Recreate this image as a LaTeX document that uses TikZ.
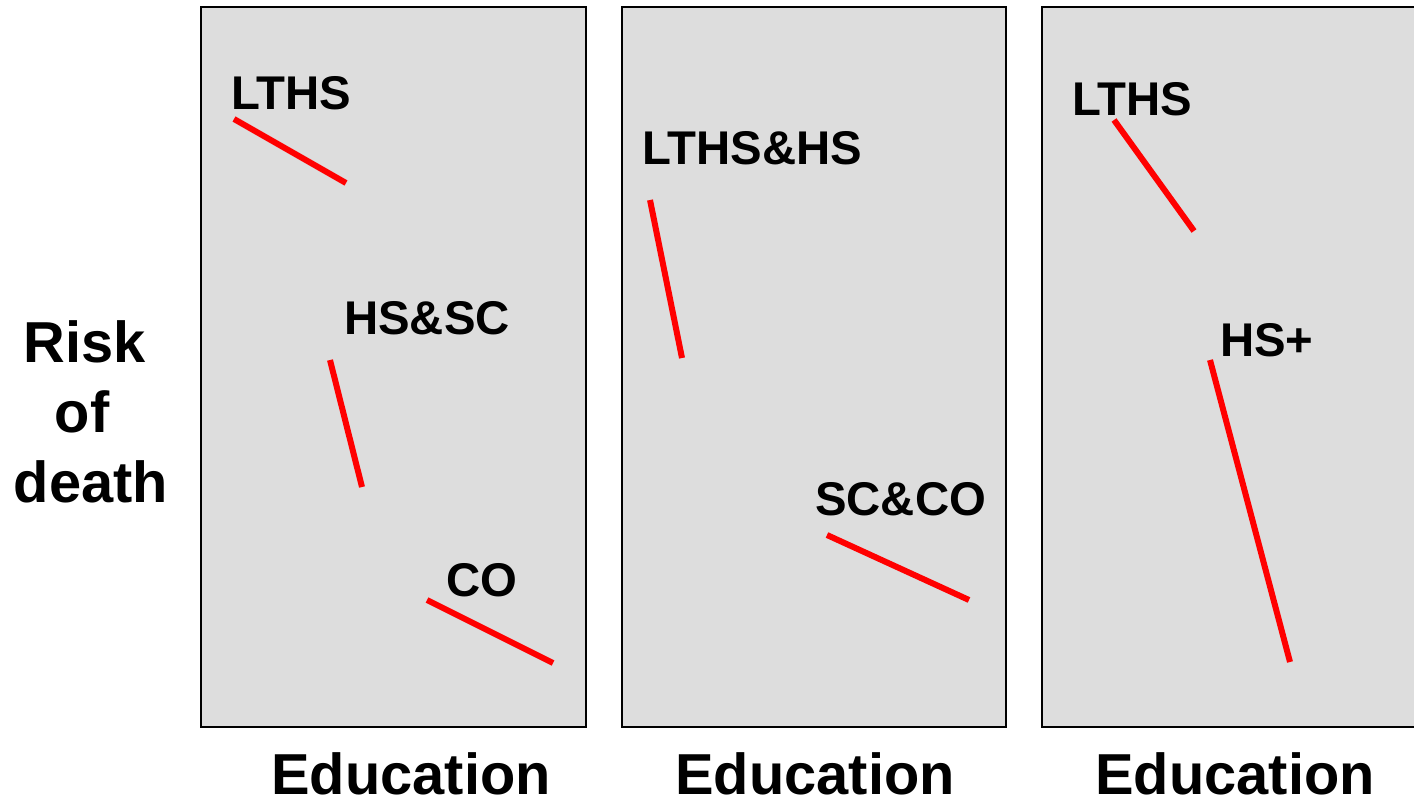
\documentclass[tikz,border=0pt]{standalone}
\usepackage{fontspec}
\setmainfont{Liberation Sans}
\begin{document}
\begin{tikzpicture}[x=1bp,y=-1bp,
  panel/.style={draw=black,line width=2bp,fill=panelgray},
  seg/.style={draw=red,line width=6bp},
  lab/.style={anchor=base west,inner sep=0pt,font=\bfseries\fontsize{47.5}{50}\selectfont},
  ylab/.style={anchor=base,inner sep=0pt,font=\bfseries\fontsize{58}{60}\selectfont},
  axis/.style={anchor=base,inner sep=0pt,font=\bfseries\fontsize{58}{60}\selectfont}]
\definecolor{panelgray}{HTML}{DDDDDD}
\useasboundingbox (0,0) rectangle (1414,799);
% panels
\path[panel] (201,7) rectangle (586,727);
\path[panel] (622,7) rectangle (1006,727);
\path[fill=panelgray] (1042,7) rectangle (1414,727);
\draw[line width=2bp] (1414,7) -- (1042,7) -- (1042,727) -- (1414,727);
% y label
\node[ylab] (risk) at (85,362) {Risk};
\node[ylab] (of) at (82,432) {of};
\node[ylab] (death) at (91,502) {death};
% x labels
\node[axis] (ed1) at (411,794) {Education};
\node[axis] (ed2) at (815,794) {Education};
\node[axis] (ed3) at (1235,794) {Education};
% panel 1
\node[lab] (l1) at (231,109) {LTHS};
\node[lab] (l2) at (344,334) {HS\&SC};
\node[lab] (l3) at (446,596) {CO};
\path[seg] (234,119) -- (346,183);
\path[seg] (330,360) -- (362,487);
\path[seg] (427,600) -- (553,663);
% panel 2
\node[lab] (m1) at (642,164) {LTHS\&HS};
\node[lab] (m2) at (815,515) {SC\&CO};
\path[seg] (650,200) -- (682,358);
\path[seg] (827,535) -- (969,600);
% panel 3
\node[lab] (r1) at (1072,115) {LTHS};
\node[lab] (r2) at (1220,356) {HS+};
\path[seg] (1114,120) -- (1194,231);
\path[seg] (1210,360) -- (1290,662);
\end{tikzpicture}
\end{document}
